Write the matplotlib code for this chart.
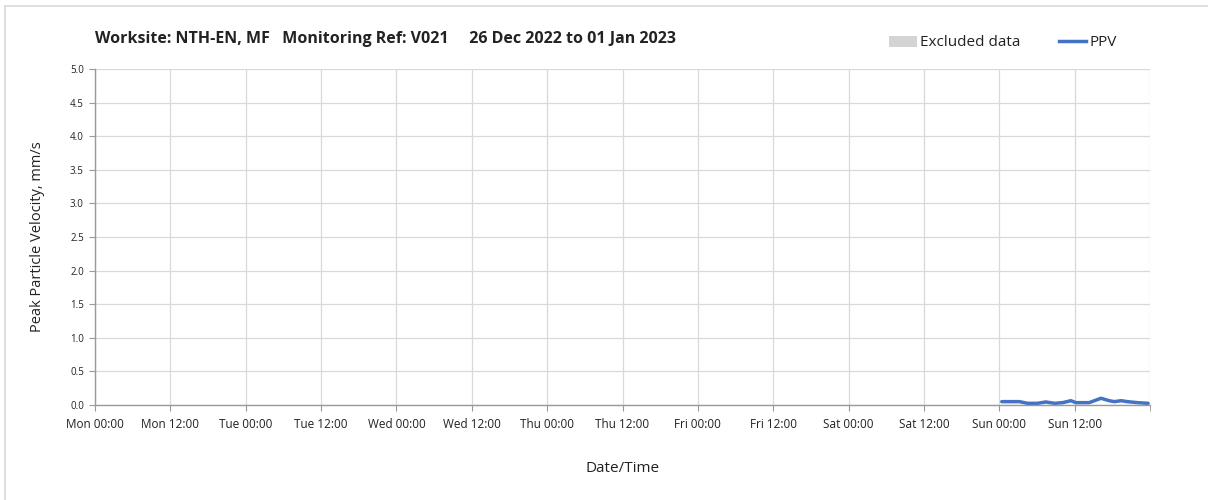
import numpy as np
from matplotlib import pyplot as plt
from matplotlib.lines import Line2D
from matplotlib.patches import Patch

# Data: hours since Mon 26 Dec 00:00, PPV in mm/s
hours = [144.4, 147.2, 148.5, 150.1, 151.4, 152.8, 154.1, 155.4, 156.2,
         158.3, 160.2, 161.5, 162.3, 163.4, 164.4, 166.0, 167.7]
ppv = [0.050, 0.050, 0.025, 0.025, 0.045, 0.025, 0.035, 0.064, 0.035,
       0.035, 0.100, 0.064, 0.050, 0.064, 0.050, 0.035, 0.025]

tick_labels = ['Mon 00:00', 'Mon 12:00', 'Tue 00:00', 'Tue 12:00', 'Wed 00:00',
               'Wed 12:00', 'Thu 00:00', 'Thu 12:00', 'Fri 00:00', 'Fri 12:00',
               'Sat 00:00', 'Sat 12:00', 'Sun 00:00', 'Sun 12:00']
y_ticks = [0.0, 0.5, 1.0, 1.5, 2.0, 2.5, 3.0, 3.5, 4.0, 4.5, 5.0]

plt.rcParams['font.family'] = ['Open Sans', 'DejaVu Sans']
txt = '#222222'

fig = plt.figure(figsize=(12.08, 5.0), dpi=100)
ax = fig.add_axes([95 / 1208, 1 - 405 / 500, 1055 / 1208, 336 / 500])

ax.plot(hours, ppv, color='#4472c4', lw=2.5, solid_capstyle='round')

ax.set_xlim(0, 168)
ax.set_ylim(0, 5)
ax.set_xticks(np.arange(0, 168, 12))
ax.set_xticklabels(tick_labels, fontsize=8.5, color=txt)
ax.set_xticks([168], minor=True)
ax.set_yticks(y_ticks)
ax.set_yticklabels([f'{v:.1f}' for v in y_ticks], fontsize=7, color=txt)
ax.tick_params(axis='x', length=4, color='#999999', pad=5)
ax.tick_params(axis='x', which='minor', length=4, color='#999999')
ax.tick_params(axis='y', length=4, color='#999999', pad=4)

ax.grid(True, color='#d9d9d9', lw=0.9)
ax.set_axisbelow(True)
for s in ['top', 'right']:
    ax.spines[s].set_visible(False)
for s in ['left', 'bottom']:
    ax.spines[s].set_color('#999999')
    ax.spines[s].set_linewidth(1.0)
# right edge gridline
ax.axvline(168, color='#d9d9d9', lw=0.9, zorder=0)

ax.set_xlabel('Date/Time', fontsize=11, color=txt, labelpad=22)
ax.set_ylabel('Peak Particle Velocity, mm/s', fontsize=10.5, color=txt, labelpad=18)

fig.text(95 / 1208, 1 - 39 / 500, 'Worksite: NTH-EN, MF   Monitoring Ref: V021     26 Dec 2022 to 01 Jan 2023',
         fontsize=11.5, fontweight='bold', color=txt, va='center', ha='left')

handles = [Patch(facecolor='#d4d4d4', edgecolor='none', label='Excluded data'),
           Line2D([], [], color='#4472c4', lw=2.5, label='PPV')]
fig.legend(handles=handles, loc='center', bbox_to_anchor=(1003 / 1208, 1 - 43 / 500),
           ncol=2, frameon=False, fontsize=11, handlelength=1.8, handletextpad=0.2,
           columnspacing=2.5, labelcolor=txt)

# outer frame (top and left only visible)
fig.add_artist(Line2D([5 / 1208, 5 / 1208], [0, 1 - 6 / 500], color='#d9d9d9', lw=1.2,
                      transform=fig.transFigure))
fig.add_artist(Line2D([5 / 1208, 1], [1 - 6 / 500, 1 - 6 / 500], color='#d9d9d9', lw=1.2,
                      transform=fig.transFigure))

fig.savefig('out.png', dpi=100)
